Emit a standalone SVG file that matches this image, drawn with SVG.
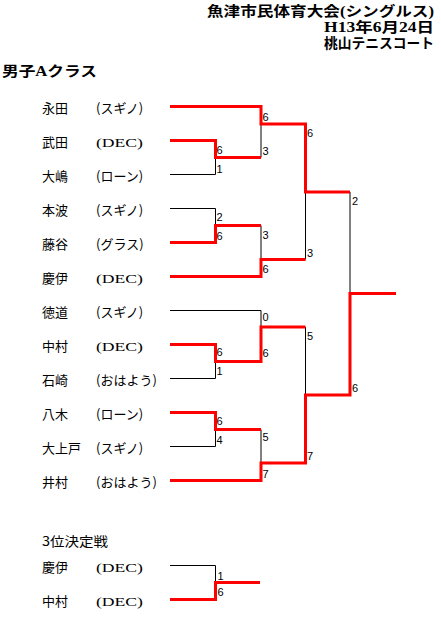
<svg xmlns="http://www.w3.org/2000/svg" width="441" height="617" viewBox="0 0 441 617">
<style>
.t{font-family:"Liberation Serif","Noto Sans CJK JP",serif;font-weight:bold;font-size:14px;fill:#000}
.n{font-family:"Noto Sans CJK JP","Noto Sans",sans-serif;font-size:13px;fill:#000}
.d{font-family:"Liberation Serif","Noto Sans CJK JP",serif;font-size:13px;fill:#000}
.s{font-family:"Liberation Sans",Arial,sans-serif;font-size:11px;fill:#000}
.b{fill:none;stroke:#000;stroke-width:1}
.r{fill:none;stroke:#ff0000;stroke-width:3;stroke-linejoin:miter}
</style>
<rect width="441" height="617" fill="#fff"/>
<g id="title">
<text class="t" x="434" y="16" text-anchor="end" textLength="227" lengthAdjust="spacingAndGlyphs">魚津市民体育大会(シングルス)</text>
<text class="t" x="434" y="32" text-anchor="end" textLength="110" lengthAdjust="spacingAndGlyphs">H13年6月24日</text>
<text class="t" x="434" y="47.5" text-anchor="end" textLength="110" lengthAdjust="spacingAndGlyphs">桃山テニスコート</text>
<text class="t" x="2" y="75.5" textLength="95" lengthAdjust="spacingAndGlyphs">男子Aクラス</text>
</g>
<g id="players">
<g id="p1"><text class="n" x="42" y="113">永田</text><text class="n" x="96" y="113">(スギノ)</text></g>
<g id="p2"><text class="n" x="42" y="147">武田</text><text class="d" x="96" y="147" textLength="47" lengthAdjust="spacingAndGlyphs">(DEC)</text></g>
<g id="p3"><text class="n" x="42" y="181">大嶋</text><text class="n" x="96" y="181">(ローン)</text></g>
<g id="p4"><text class="n" x="42" y="215">本波</text><text class="n" x="96" y="215">(スギノ)</text></g>
<g id="p5"><text class="n" x="42" y="249">藤谷</text><text class="n" x="96" y="249">(グラス)</text></g>
<g id="p6"><text class="n" x="42" y="283">慶伊</text><text class="d" x="96" y="283" textLength="47" lengthAdjust="spacingAndGlyphs">(DEC)</text></g>
<g id="p7"><text class="n" x="42" y="317">徳道</text><text class="n" x="96" y="317">(スギノ)</text></g>
<g id="p8"><text class="n" x="42" y="351">中村</text><text class="d" x="96" y="351" textLength="47" lengthAdjust="spacingAndGlyphs">(DEC)</text></g>
<g id="p9"><text class="n" x="42" y="385">石崎</text><text class="n" x="96" y="385">(おはよう)</text></g>
<g id="p10"><text class="n" x="42" y="419">八木</text><text class="n" x="96" y="419">(ローン)</text></g>
<g id="p11"><text class="n" x="42" y="453">大上戸</text><text class="n" x="96" y="453">(スギノ)</text></g>
<g id="p12"><text class="n" x="42" y="487">井村</text><text class="n" x="96" y="487">(おはよう)</text></g>
</g>
<g id="third">
<text class="n" x="42" y="546" textLength="66" lengthAdjust="spacingAndGlyphs">3位決定戦</text>
<g id="t1"><text class="n" x="42" y="572">慶伊</text><text class="d" x="96" y="572" textLength="47" lengthAdjust="spacingAndGlyphs">(DEC)</text></g>
<g id="t2"><text class="n" x="42" y="606">中村</text><text class="d" x="96" y="606" textLength="47" lengthAdjust="spacingAndGlyphs">(DEC)</text></g>
</g>
<g id="connectors">
<path class="b" d="M170 174.5H215.5V157.5M170 208.5H215.5V225.5M261 124V157.5M261 225.5V259.5M305.5 192V259.5M350 192V293.5"/>
<path class="b" d="M170 310.5H261V327M170 378.5H215.5V361.5M170 446.5H215.5V429.5M261 429.5V463M305.5 327V395"/>
<path class="b" d="M170 565.5H215.5V582.5"/>
<path class="r" d="M170 106.5H261V124H305.5V192H350"/>
<path class="r" d="M170 140.5H215.5V157.5H261"/>
<path class="r" d="M170 242.5H215.5V225.5H261"/>
<path class="r" d="M170 276.5H261V259.5H305.5"/>
<path class="r" d="M170 344.5H215.5V361.5H261V327H305.5"/>
<path class="r" d="M170 412.5H215.5V429.5H261"/>
<path class="r" d="M170 480.5H261V463H305.5V395H350V293.5H396"/>
<path class="r" d="M170 599.5H215.5V582.5H260"/>
</g>
<g id="scores">
<text class="s" x="262.5" y="121">6</text>
<text class="s" x="262.5" y="155">3</text>
<text class="s" x="216.5" y="154">6</text>
<text class="s" x="216.5" y="173">1</text>
<text class="s" x="307" y="137">6</text>
<text class="s" x="216.5" y="221">2</text>
<text class="s" x="216.5" y="240">6</text>
<text class="s" x="262.5" y="239">3</text>
<text class="s" x="262.5" y="273">6</text>
<text class="s" x="307" y="257">3</text>
<text class="s" x="352" y="205">2</text>
<text class="s" x="262.5" y="321">0</text>
<text class="s" x="216.5" y="356">6</text>
<text class="s" x="262.5" y="357">6</text>
<text class="s" x="216.5" y="375">1</text>
<text class="s" x="307" y="340">5</text>
<text class="s" x="352" y="392">6</text>
<text class="s" x="216.5" y="425">6</text>
<text class="s" x="216.5" y="444">4</text>
<text class="s" x="262.5" y="441">5</text>
<text class="s" x="262.5" y="478">7</text>
<text class="s" x="307" y="460">7</text>
<text class="s" x="217.5" y="580">1</text>
<text class="s" x="217.5" y="596">6</text>
</g>
</svg>
